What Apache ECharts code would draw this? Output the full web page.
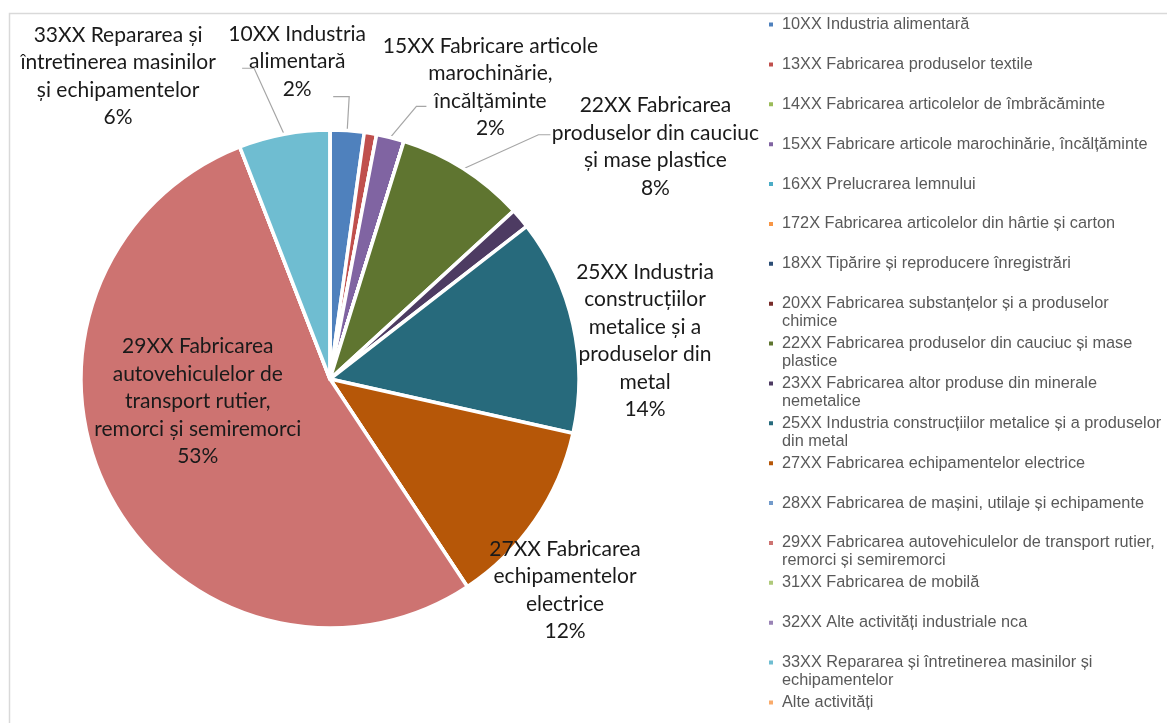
<!DOCTYPE html>
<html>
<head>
<meta charset="utf-8">
<script src="https://cdn.jsdelivr.net/npm/echarts@6/dist/echarts.min.js"></script>
<style>
html,body{margin:0;padding:0;background:#fff;}
#chart{width:1167px;height:723px;}
</style>
</head>
<body>
<div id="chart"></div>
<script>
const categories = [
  "10XX Industria alimentară",
  "13XX Fabricarea produselor textile",
  "14XX Fabricarea articolelor de îmbrăcăminte",
  "15XX Fabricare articole marochinărie, încălțăminte",
  "16XX Prelucrarea lemnului",
  "172X Fabricarea articolelor din hârtie și carton",
  "18XX Tipărire și reproducere înregistrări",
  "20XX Fabricarea substanțelor și a produselor chimice",
  "22XX Fabricarea produselor din cauciuc și mase plastice",
  "23XX Fabricarea altor produse din minerale nemetalice",
  "25XX Industria construcțiilor metalice și a produselor din metal",
  "27XX Fabricarea echipamentelor electrice",
  "28XX Fabricarea de mașini, utilaje și echipamente",
  "29XX Fabricarea autovehiculelor de transport rutier, remorci și semiremorci",
  "31XX Fabricarea de mobilă",
  "32XX Alte activități industriale nca",
  "33XX Repararea și întretinerea masinilor și echipamentelor",
  "Alte activități"
];
const values = [2.2, 0.8, 0, 1.8, 0, 0, 0, 0, 8.4, 1.3, 14.0, 12.2, 0, 53.4, 0, 0, 5.9, 0];
const legendLabels = [
  ["10XX Industria alimentară"],
  ["13XX Fabricarea produselor textile"],
  ["14XX Fabricarea articolelor de îmbrăcăminte"],
  ["15XX Fabricare articole marochinărie, încălțăminte"],
  ["16XX Prelucrarea lemnului"],
  ["172X Fabricarea articolelor din hârtie și carton"],
  ["18XX Tipărire și reproducere înregistrări"],
  ["20XX Fabricarea substanțelor și a produselor", "chimice"],
  ["22XX Fabricarea produselor din cauciuc și mase", "plastice"],
  ["23XX Fabricarea altor produse din minerale", "nemetalice"],
  ["25XX Industria construcțiilor metalice și a produselor", "din metal"],
  ["27XX Fabricarea echipamentelor electrice"],
  ["28XX Fabricarea de mașini, utilaje și echipamente"],
  ["29XX Fabricarea autovehiculelor de transport rutier,", "remorci și semiremorci"],
  ["31XX Fabricarea de mobilă"],
  ["32XX Alte activități industriale nca"],
  ["33XX Repararea și întretinerea masinilor și", "echipamentelor"],
  ["Alte activități"]
];
const sliceLabels = [
  "10XX Industria\nalimentară",
  null,
  null,
  "15XX Fabricare articole\nmarochinărie,\nîncălțăminte",
  null, null, null, null,
  "22XX Fabricarea\nproduselor din cauciuc\nși mase plastice",
  null,
  "25XX Industria\nconstrucțiilor\nmetalice și a\nproduselor din\nmetal",
  "27XX Fabricarea\nechipamentelor\nelectrice",
  null,
  "29XX Fabricarea\nautovehiculelor de\ntransport rutier,\nremorci și semiremorci",
  null, null,
  "33XX Repararea și\nîntretinerea masinilor\nși echipamentelor",
  null
];
const colors = ["#4F81BD","#C0504D","#9BBB59","#8064A2","#4BACC6","#F79646","#2C4D75","#772C2A",
  "#5F7530","#4D3B62","#276A7C","#B65708","#729ACA","#CD7371","#AFC97A","#9983B5","#6FBDD1","#F9AB6B"];

// label placement offsets (style only)
const labelPlacement = {
  0:  {off: [-50, -69], line: [[2, -34], [-16, 0]]},
  3:  {off: [100, -50], line: [[26, -31], [10, 0]]},
  8:  {off: [192, -22], line: [[75, -34], [12, 0]]},
  10: {off: [72, 16]},
  11: {off: [30, 70]},
  13: {off: [-19, -36]},
  16: {off: [-166, -58], line: [[-30, -66], [-12, 0]]}
};

const data = categories.map((c, i) => {
  const item = {name: c, value: values[i], itemStyle: {color: colors[i]}};
  if (!sliceLabels[i]) {
    item.label = {show: false};
    item.labelLine = {show: false};
  } else if (i === 13) {
    item.label = {show: true, position: 'inside'};
  } else if (!labelPlacement[i].line) {
    item.labelLine = {show: true, lineStyle: {opacity: 0}};
  }
  return item;
});

// legend layout: one legend block per row so wrapped rows keep a fixed pitch
const LEG_FIRST = 24.5, LEG_PITCH = 39.88, LEG_LINE = 18;
const legends = categories.map((c, i) => {
  const lines = legendLabels[i];
  const n = lines.length;
  const text = n > 1 ? '\n' + lines.join('\n') : lines[0];
  const centerY = LEG_FIRST + i * LEG_PITCH;
  return {
    orient: 'vertical',
    left: 767,
    top: centerY - (LEG_LINE / 2) * (2 * n - 1),
    padding: 0,
    itemWidth: 6,
    itemHeight: 6,
    icon: 'rect',
    selectedMode: false,
    data: [c],
    formatter: function () { return text; },
    textStyle: {
      fontFamily: 'Liberation Sans',
      fontSize: 16.3,
      color: '#595959',
      lineHeight: LEG_LINE,
      padding: [0, 0, 0, 3]
    }
  };
});

const chart = echarts.init(document.getElementById('chart'), null, {renderer: 'canvas'});
chart.setOption({
  backgroundColor: '#ffffff',
  animation: false,
  graphic: [{
    type: 'rect', left: 7, top: 11, z: -10,
    shape: {width: 1300, height: 900},
    style: {fill: 'none', stroke: '#d9d9d9', lineWidth: 1.5}
  }],
  legend: legends,
  series: [{
    type: 'pie',
    center: [330, 379],
    radius: 249,
    startAngle: 90,
    clockwise: true,
    avoidLabelOverlap: false,
    stillShowZeroSum: true,
    emphasis: {disabled: true},
    itemStyle: {borderColor: '#ffffff', borderWidth: 3.5},
    label: {
      show: true,
      position: 'outside',
      alignTo: 'none',
      fontFamily: 'Lato',
      fontSize: 21,
      lineHeight: 27.5,
      color: '#1a1a1a',
      align: 'center',
      formatter: function (p) {
        return sliceLabels[p.dataIndex] + '\n' + Math.round(p.value) + '%';
      }
    },
    labelLine: {show: true, length: 30, length2: 10, lineStyle: {color: '#a6a6a6', width: 1.2}},
    labelLayout: function (params) {
      const cfg = labelPlacement[params.dataIndex];
      if (!cfg) return {};
      const pts = params.labelLinePoints;
      let ax, ay, linePts;
      if (pts && params.dataIndex !== 13) {
        ax = pts[0][0]; ay = pts[0][1];
        if (cfg.line) {
          const p2 = [ax + cfg.line[0][0], ay + cfg.line[0][1]];
          const p3 = [p2[0] + cfg.line[1][0], p2[1] + cfg.line[1][1]];
          linePts = [[ax, ay], p2, p3];
        } else {
          linePts = [[ax, ay], [ax, ay], [ax, ay]];
        }
      } else {
        const r = params.labelRect;
        ax = r.x + r.width / 2; ay = r.y + r.height / 2;
      }
      const out = {x: ax + cfg.off[0], y: ay + cfg.off[1], align: 'center', verticalAlign: 'middle'};
      if (linePts) out.labelLinePoints = linePts;
      return out;
    },
    data: data
  }]
});
</script>
</body>
</html>
